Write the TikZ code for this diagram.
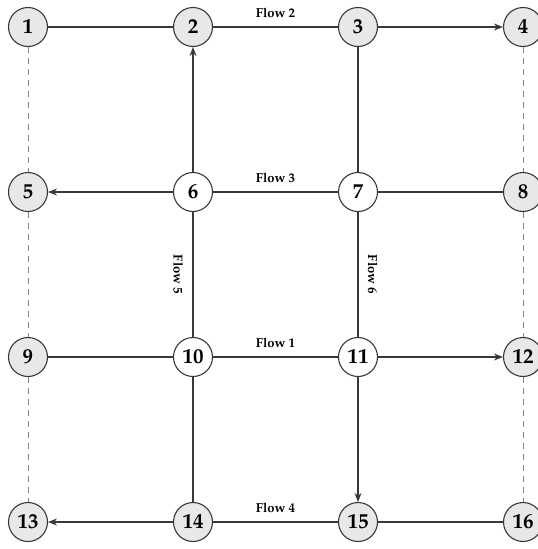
\documentclass[tikz,border=0pt]{standalone}
\usepackage[T1]{fontenc}
\usepackage{mathpazo}
\usetikzlibrary{arrows.meta}
\definecolor{nodegray}{HTML}{E8E8E8}
\definecolor{linegray}{HTML}{383838}
\tikzset{
  nd/.style={circle,draw=linegray,line width=1.1pt,minimum size=39pt,inner sep=0pt,font=\fontsize{21}{21}\selectfont\bfseries},
  gnd/.style={nd,fill=nodegray},
  wnd/.style={nd,fill=white},
  ln/.style={draw=linegray,line width=1.1pt},
  arr/.style={ln,-{Stealth[length=9pt,width=7pt]}},
  dsh/.style={draw=gray,line width=0.8pt,dash pattern=on 6pt off 5pt},
  flow/.style={font=\fontsize{13}{13}\selectfont\bfseries}
}
\begin{document}
\begin{tikzpicture}[x=1pt,y=-1pt]
\useasboundingbox (0,0) rectangle (538,549);
\node[gnd] (n1) at (28,27) {1};
\node[gnd] (n2) at (193,27) {2};
\node[gnd] (n3) at (358,27) {3};
\node[gnd] (n4) at (523,27) {4};
\node[gnd] (n5) at (28,192) {5};
\node[wnd] (n6) at (193,192) {6};
\node[wnd] (n7) at (358,192) {7};
\node[gnd] (n8) at (523,192) {8};
\node[gnd] (n9) at (28,357) {9};
\node[wnd] (n10) at (193,357) {10};
\node[wnd] (n11) at (358,357) {11};
\node[gnd] (n12) at (523,357) {12};
\node[gnd] (n13) at (28,522) {13};
\node[gnd] (n14) at (193,522) {14};
\node[gnd] (n15) at (358,522) {15};
\node[gnd] (n16) at (523,522) {16};
% dashed borders
\draw[dsh] (n1) -- (n5);
\draw[dsh] (n5) -- (n9);
\draw[dsh] (n9) -- (n13);
\draw[dsh] (n4) -- (n8);
\draw[dsh] (n8) -- (n12);
\draw[dsh] (n12) -- (n16);
% row 1
\draw[ln] (n1) -- (n2);
\draw[ln] (n2) -- node[flow,above=5pt] (f2) {Flow 2} (n3);
\draw[arr] (n3) -- (n4);
% row 2
\draw[arr] (n6) -- (n5);
\draw[ln] (n6) -- node[flow,above=5pt] (f3) {Flow 3} (n7);
\draw[ln] (n7) -- (n8);
% row 3
\draw[ln] (n9) -- (n10);
\draw[ln] (n10) -- node[flow,above=5pt] (f1) {Flow 1} (n11);
\draw[arr] (n11) -- (n12);
% row 4
\draw[arr] (n14) -- (n13);
\draw[ln] (n14) -- node[flow,above=5pt] (f4) {Flow 4} (n15);
\draw[ln] (n15) -- (n16);
% verticals
\draw[arr] (n6) -- (n2);
\draw[ln] (n3) -- (n7);
\draw[ln] (n6) -- node[flow,rotate=-90,below=6pt,pos=0.5] (f5) {Flow 5} (n10);
\draw[ln] (n7) -- node[flow,rotate=-90,above=6pt,pos=0.5] (f6) {Flow 6} (n11);
\draw[ln] (n10) -- (n14);
\draw[arr] (n11) -- (n15);
\end{tikzpicture}
\end{document}
